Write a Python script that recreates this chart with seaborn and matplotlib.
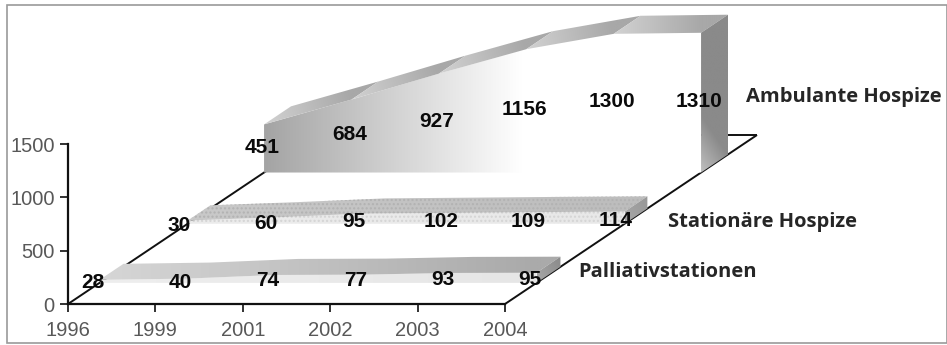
import numpy as np
import matplotlib
matplotlib.use("Agg")
import matplotlib.pyplot as plt
import seaborn as sns
from matplotlib.patches import Polygon, Rectangle
from matplotlib.colors import LinearSegmentedColormap

# ---------------- data ----------------
years = ["1996", "1999", "2001", "2002", "2003", "2004"]
palliativ = [28, 40, 74, 77, 93, 95]
stationaer = [30, 60, 95, 102, 109, 114]
ambulant = [451, 684, 927, 1156, 1300, 1310]
series_names = ["Palliativstationen", "Stationäre Hospize", "Ambulante Hospize"]
y_ticks = [0, 500, 1000, 1500]
y_max = 1500

# ---------------- layout (pixels) ----------------
W, H, DPI = 947, 345, 100
L, R, B, T = 68, 505, 304, 144          # front plot area (px, from top)
DEPTH_PX = (252, 169)                    # floor depth vector in px

sns.set_theme(style="white")
plt.rcParams["font.family"] = ["Liberation Sans", "DejaVu Sans"]

fig = plt.figure(figsize=(W / DPI, H / DPI), dpi=DPI)
fig.patch.set_facecolor("white")

n = len(years)
xs = np.arange(n)

ax = fig.add_axes([L / W, (H - B) / H, (R - L) / W, (B - T) / H])
ax.set_xlim(0, n - 1)
ax.set_ylim(0, y_max)
ax.set_xticks(xs, years)
ax.set_yticks(y_ticks)
ax.set_facecolor("none")
ax.grid(False)
sns.despine(ax=ax)
for s in ("left", "bottom"):
    ax.spines[s].set_color("#111111")
    ax.spines[s].set_linewidth(1.6)
ax.tick_params(bottom=True, left=True, direction="out", length=5.5, width=1.3,
               color="#222222", labelcolor="#585858", labelsize=14.5, pad=4)
ax.tick_params(axis="x", pad=7)

# overlay axes sharing the same data coordinates, covering whole figure
sx = (R - L) / (n - 1)       # px per category
sy = (B - T) / y_max         # px per value unit
ov = fig.add_axes([0, 0, 1, 1], zorder=5)
ov.axis("off")
ov.patch.set_alpha(0)
XL = (-L / sx, (n - 1) + (W - R) / sx)
YL = (-(H - B) / sy, y_max + T / sy)

DX = DEPTH_PX[0] / sx
DY = DEPTH_PX[1] / sy


def P(i, v, z):
    return (i + z * DX, v + z * DY)


def grad_poly(pts, p0, p1, colors, z, hatch=None, hatch_color=None):
    pts = np.asarray(pts, dtype=float)
    patch = Polygon(pts, closed=True, fc="none", ec="none", zorder=z)
    ov.add_patch(patch)
    x0, x1 = pts[:, 0].min(), pts[:, 0].max()
    y0, y1 = pts[:, 1].min(), pts[:, 1].max()
    gx = np.linspace(x0, x1, 300)
    gy = np.linspace(y0, y1, 200)
    GX, GY = np.meshgrid(gx, gy)
    ux, uy = (p1[0] - p0[0]) * sx, (p1[1] - p0[1]) * sy
    t = ((GX - p0[0]) * sx * ux + (GY - p0[1]) * sy * uy) / (ux ** 2 + uy ** 2)
    t = np.clip(t, 0, 1)
    cmap = LinearSegmentedColormap.from_list("g", colors)
    im = ov.imshow(t, extent=(x0, x1, y0, y1), origin="lower", aspect="auto",
                   cmap=cmap, vmin=0, vmax=1, interpolation="bilinear", zorder=z)
    im.set_clip_path(patch)
    if hatch:
        hp = Polygon(pts, closed=True, fc="none", ec=hatch_color, lw=0,
                     hatch=hatch, zorder=z + 0.01)
        ov.add_patch(hp)


# ---------------- floor lines ----------------
line_kw = dict(color="#111111", lw=1.4, zorder=1, solid_capstyle="butt")
for i0 in (0, n - 1):
    a, b = P(i0, 0, 0), P(i0, 0, 1)
    ov.plot([a[0], b[0]], [a[1], b[1]], **line_kw)
a, b = P(n - 1, 0, 1), P(0, 0, 1)
ov.plot([a[0], b[0]], [a[1], b[1]], **line_kw)

# ---------------- 3D areas ----------------
def area3d(vals, z0, z1, zo, front_cols, front_span, top_mode, top_cols,
           side_cols, hatch=None, hatch_color=None, front_hatch=None):
    vals = list(vals)
    # front face
    front = [P(i, v, z0) for i, v in enumerate(vals)] + [P(n - 1, 0, z0), P(0, 0, z0)]
    grad_poly(front, P(0, 0, z0), P(front_span, 0, z0), front_cols, zo,
              hatch=front_hatch, hatch_color="#d4d4d4")
    # top face
    if top_mode == "segments":
        for i in range(n - 1):
            q = [P(i, vals[i], z0), P(i + 1, vals[i + 1], z0),
                 P(i + 1, vals[i + 1], z1), P(i, vals[i], z1)]
            grad_poly(q, P(i, vals[i], z0), P(i + 1, vals[i + 1], z0), top_cols, zo)
    else:
        top = [P(i, v, z0) for i, v in enumerate(vals)] + \
              [P(i, v, z1) for i, v in reversed(list(enumerate(vals)))]
        grad_poly(top, P(0, 0, z0), P(n - 1, 0, z0), top_cols, zo,
                  hatch=hatch, hatch_color=hatch_color)
    # right side face
    side = [P(n - 1, 0, z0), P(n - 1, vals[-1], z0), P(n - 1, vals[-1], z1), P(n - 1, 0, z1)]
    grad_poly(side, P(n - 1, 0, z0), P(n - 1, 0, z1), side_cols, zo)


area3d(ambulant, 0.778, 0.885, 2,
       ["#a4a4a4", "#d2d2d2", "#ffffff"], 2.95, "segments",
       ["#d2d2d2", "#a8a8a8"], ["#c0c0c0", "#8a8a8a"])
area3d(stationaer, 0.475, 0.565, 3,
       ["#ececec", "#e8e8e8"], n - 1, "whole",
       ["#c9c9c9", "#bdbdbd"], ["#a8a8a8", "#9a9a9a"],
       hatch="....", hatch_color="#b2b2b2", front_hatch="....")
area3d(palliativ, 0.125, 0.22, 4,
       ["#eeeeee", "#e6e6e6"], n - 1, "whole",
       ["#d6d6d6", "#aaaaaa"], ["#a8a8a8", "#8e8e8e"])

# ---------------- data labels ----------------
label_depth = [0.10, 0.44, 0.77]
for vals, zl in zip([palliativ, stationaer, ambulant], label_depth):
    for i, v in enumerate(vals):
        xx, yy = P(i, v / 2 + 25, zl)
        ov.text(xx, yy, str(v), ha="center", va="center", fontsize=15,
                fontweight="bold", color="#0a0a0a", zorder=20)

# ---------------- series labels ----------------
slot_center = [0.19, 0.54, 0.83]
offsets_px = [(25, 0), (27, -9), (32, 67)]
for name, zc, (ox, oy) in zip(series_names, slot_center, offsets_px):
    ov.annotate(name, xy=P(n - 1, 0, zc), xytext=(ox * 72 / DPI, oy * 72 / DPI),
                textcoords="offset points", ha="left", va="center",
                fontsize=14.5, fontweight="bold", color="#262626",
                family=["Open Sans", "DejaVu Sans"], zorder=20)

ov.set_xlim(*XL)
ov.set_ylim(*YL)

# outer frame
fig.patches.append(Rectangle((6.5 / W, 2.5 / H), 940 / W, 337.5 / H,
                             transform=fig.transFigure, fill=False,
                             edgecolor="#9a9a9a", lw=1.2, zorder=0))

fig.savefig("out.png", dpi=DPI)
